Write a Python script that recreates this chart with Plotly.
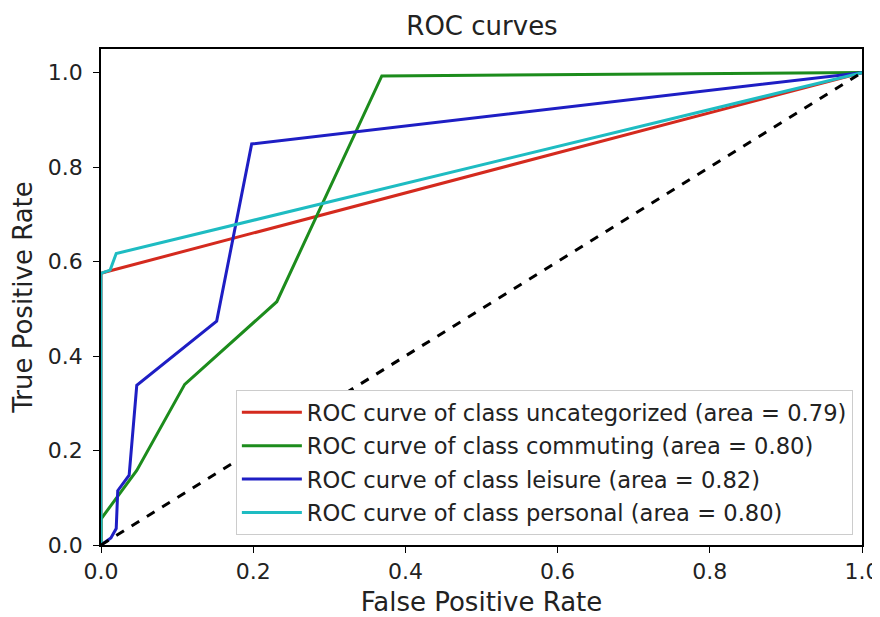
import plotly.graph_objects as go

# ROC data
uncat_fpr = [0.0, 0.0, 0.006, 1.0]
uncat_tpr = [0.0, 0.575, 0.578, 1.0]

comm_fpr = [0.0, 0.0, 0.047, 0.070, 0.110, 0.231, 0.369, 1.0]
comm_tpr = [0.0, 0.055, 0.158, 0.225, 0.340, 0.515, 0.993, 1.0]

leis_fpr = [0.0, 0.013, 0.020, 0.022, 0.037, 0.047, 0.152, 0.198, 1.0]
leis_tpr = [0.0, 0.015, 0.035, 0.115, 0.148, 0.338, 0.474, 0.849, 1.0]

pers_fpr = [0.0, 0.0, 0.012, 0.020, 1.0]
pers_tpr = [0.0, 0.575, 0.582, 0.617, 1.0]

chance = [0.0, 1.0]

tick_vals = [0, 0.2, 0.4, 0.6, 0.8, 1.0]
tick_text = ["0.0", "0.2", "0.4", "0.6", "0.8", "1.0"]

series = [
    ("ROC curve of class uncategorized (area = 0.79)", uncat_fpr, uncat_tpr, "#d42a1e"),
    ("ROC curve of class commuting (area = 0.80)", comm_fpr, comm_tpr, "#1c8c1c"),
    ("ROC curve of class leisure (area = 0.82)", leis_fpr, leis_tpr, "#1e1ec4"),
    ("ROC curve of class personal (area = 0.80)", pers_fpr, pers_tpr, "#1ebcc2"),
]

FONT = "DejaVu Sans"
fig = go.Figure()
for i, (name, x, y, c) in enumerate(series):
    fig.add_trace(go.Scatter(x=x, y=y, mode="lines", name=name, legendgroup=f"g{i}",
                             line=dict(color=c, width=3)))
fig.add_trace(go.Scatter(x=chance, y=chance, mode="lines", showlegend=False,
                         line=dict(color="black", width=3, dash="dash")))

W, H = 872, 609
fig.update_layout(
    width=W, height=H,
    margin=dict(l=93, r=18, t=41, b=72),
    paper_bgcolor="white", plot_bgcolor="white",
    font=dict(family=FONT, size=22, color="#222"),
    title=dict(text="ROC curves", x=474 / W, xanchor="center",
               y=1 - 18 / H, yanchor="middle", yref="container",
               font=dict(size=26, family=FONT, color="#222")),
    legend=dict(x=0.988, y=0.02, xanchor="right", yanchor="bottom",
                bgcolor="white", bordercolor="#cccccc", borderwidth=1,
                itemwidth=60, tracegroupgap=1,
                font=dict(size=22.6, family=FONT, color="#222")),
    showlegend=True,
)
fig.update_xaxes(range=[0, 1], tickvals=tick_vals, ticktext=tick_text,
                 showgrid=False, zeroline=False, showline=True, mirror=True,
                 linecolor="black", linewidth=1.5, ticks="outside", ticklen=6,
                 tickcolor="black", ticklabelstandoff=0, ticklabeloverflow="allow",
                 automargin=False,
                 title=dict(text="False Positive Rate", standoff=11))
fig.update_yaxes(range=[0, 1.05], tickvals=tick_vals, ticktext=tick_text,
                 showgrid=False, zeroline=False, showline=True, mirror=True,
                 linecolor="black", linewidth=1.5, ticks="outside", ticklen=6,
                 tickcolor="black", ticklabelstandoff=6, ticklabeloverflow="allow",
                 automargin=False,
                 title=dict(text="True Positive Rate", standoff=13))

fig.write_html("out.html")
